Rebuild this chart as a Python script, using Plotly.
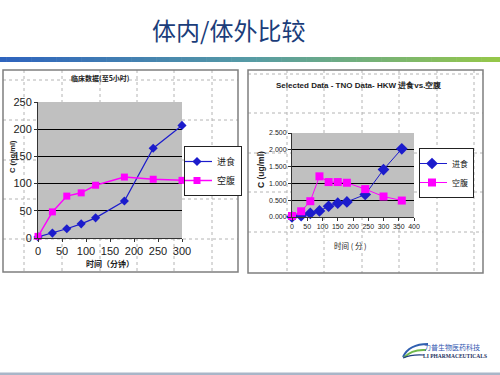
import plotly.graph_objects as go

W, H = 500, 375

# ---------------- data ----------------
t_left = [0, 30, 60, 90, 120, 180, 240, 300]
fed_left = [2, 9, 17, 26, 37, 68, 165, 207]
fast_left = [3, 48, 77, 83, 97, 112, 108, 106]

t_right = [0, 30, 60, 90, 120, 150, 180, 240, 300, 360]
fed_right = [0.0, 0.04, 0.11, 0.18, 0.32, 0.41, 0.45, 0.67, 1.41, 2.03]
fast_right = [0.03, 0.17, 0.47, 1.21, 1.04, 1.04, 1.02, 0.83, 0.61, 0.49]

series_names = ["进食", "空腹"]
left_yticks = [0, 50, 100, 150, 200, 250]
left_xticks = [0, 50, 100, 150, 200, 250, 300]
right_yticks = [0, 0.5, 1.0, 1.5, 2.0, 2.5]
right_xticks = [0, 50, 100, 150, 200, 250, 300, 350, 400]


def px(x):
    return x / W


def py(y):
    return 1 - y / H


BLUE = "#1c1ccc"
MAG = "#ff00ff"
CJK = "Noto Sans CJK SC, Liberation Sans, sans-serif"
SANS = "Liberation Sans, Arial, sans-serif"
NARROW = "Liberation Sans Narrow, Liberation Sans, sans-serif"

fig = go.Figure()

fig.add_trace(go.Scatter(x=t_left, y=fed_left, name=series_names[0], mode="lines+markers",
                         line=dict(color=BLUE, width=1.2),
                         marker=dict(symbol="diamond", size=7, color=BLUE),
                         cliponaxis=False, xaxis="x", yaxis="y", legend="legend"))
fig.add_trace(go.Scatter(x=t_left, y=fast_left, name=series_names[1], mode="lines+markers",
                         line=dict(color=MAG, width=1.5),
                         marker=dict(symbol="square", size=7, color=MAG),
                         cliponaxis=False, xaxis="x", yaxis="y", legend="legend"))
fig.add_trace(go.Scatter(x=t_right, y=fed_right, name=series_names[0], mode="lines+markers",
                         line=dict(color=BLUE, width=1),
                         marker=dict(symbol="diamond", size=9, color=BLUE),
                         cliponaxis=False, xaxis="x2", yaxis="y2", legend="legend2"))
fig.add_trace(go.Scatter(x=t_right, y=fast_right, name=series_names[1], mode="lines+markers",
                         line=dict(color=MAG, width=1),
                         marker=dict(symbol="square", size=8, color=MAG),
                         cliponaxis=False, xaxis="x2", yaxis="y2", legend="legend2"))

# plot areas (pixels)
LP = (38, 182, 102, 238)
RP = (292, 414, 133, 217)

axis_common = dict(showline=True, linecolor="#333333", linewidth=1, ticks="outside",
                   ticklen=3, tickcolor="#333333", zeroline=False, fixedrange=True,
                   automargin=False)

fig.update_layout(
    width=W, height=H, margin=dict(l=0, r=0, t=0, b=0, autoexpand=False),
    paper_bgcolor="white", plot_bgcolor="#c0c0c0",
    showlegend=True,
    xaxis=dict(domain=[px(LP[0]), px(LP[1])], range=[0, 300], tickvals=left_xticks,
               showgrid=False, anchor="y",
               tickfont=dict(family=SANS, size=11, color="#222222"), **axis_common),
    yaxis=dict(domain=[py(LP[3]), py(LP[2])], range=[0, 250], tickvals=left_yticks,
               showgrid=True, gridcolor="#000000", gridwidth=1, anchor="x",
               tickfont=dict(family=SANS, size=11, color="#222222"), **axis_common),
    xaxis2=dict(domain=[px(RP[0]), px(RP[1])], range=[0, 400], tickvals=right_xticks,
                showgrid=False, anchor="y2",
                tickfont=dict(family=NARROW, size=7, color="#222222"), **axis_common),
    yaxis2=dict(domain=[py(RP[3]), py(RP[2])], range=[0, 2.5], tickvals=right_yticks,
                tickformat=".3f", showgrid=True, gridcolor="#000000", gridwidth=1, anchor="x2",
                tickfont=dict(family=NARROW, size=7, color="#222222"), **axis_common),
    legend=dict(x=px(184), y=py(146), xanchor="left", yanchor="top",
                bgcolor="white", bordercolor="#222222", borderwidth=1,
                font=dict(family=CJK, size=9, color="#222222"),
                itemwidth=30, tracegroupgap=0, indentation=-8),
    legend2=dict(x=px(419), y=py(148), xanchor="left", yanchor="top",
                 bgcolor="white", bordercolor="#222222", borderwidth=1,
                 font=dict(family=CJK, size=8, color="#222222"),
                 itemwidth=30, tracegroupgap=0, indentation=-8),
)

shapes = []

# gradient bar under title
stops = [(0.0, (46, 99, 190)), (0.5, (86, 155, 165)), (1.0, (150, 200, 72))]


def grad(t):
    for (a, ca), (b, cb) in zip(stops[:-1], stops[1:]):
        if a <= t <= b:
            f = (t - a) / (b - a)
            return "rgb(%d,%d,%d)" % tuple(round(ca[i] + (cb[i] - ca[i]) * f) for i in range(3))
    return "rgb(%d,%d,%d)" % stops[-1][1]


N = 80
for i in range(N):
    x0 = W * i / N
    x1 = W * (i + 1) / N + 0.6
    shapes.append(dict(type="rect", xref="paper", yref="paper", x0=px(x0), x1=px(x1),
                       y0=py(62), y1=py(57), fillcolor=grad((i + 0.5) / N), line=dict(width=0),
                       layer="below"))

# bottom strip
shapes.append(dict(type="rect", xref="paper", yref="paper", x0=0, x1=1, y0=py(375), y1=py(372.5),
                   fillcolor="#a9b6c8", line=dict(width=0), layer="below"))


# dotted guide lines inside panels (clipped around plot areas)
def dotted(panel, plot, xs, ys):
    X0, X1, Y0, Y1 = panel
    a0, a1, b0, b1 = plot
    st = dict(type="line", xref="paper", yref="paper",
              line=dict(color="#b4b4b4", width=1, dash="dot"), layer="below")
    for x in xs:
        if a0 <= x <= a1:
            segs = [(Y0, b0), (b1, Y1)]
        else:
            segs = [(Y0, Y1)]
        for s0, s1 in segs:
            shapes.append(dict(st, x0=px(x), x1=px(x), y0=py(s0), y1=py(s1)))
    for y in ys:
        if b0 <= y <= b1:
            segs = [(X0, a0), (a1, X1)]
        else:
            segs = [(X0, X1)]
        for s0, s1 in segs:
            shapes.append(dict(st, x0=px(s0), x1=px(s1), y0=py(y), y1=py(y)))


LPANEL = (3, 238, 70, 272)
RPANEL = (248, 483, 70, 273)
dotted(LPANEL, LP, [24, 62, 100, 137, 174, 212], [80, 120, 160, 199, 239])
dotted(RPANEL, RP, [287, 324, 362, 399, 437, 474], [74, 113, 153, 192, 232])

for (X0, X1, Y0, Y1) in (LPANEL, RPANEL):
    shapes.append(dict(type="rect", xref="paper", yref="paper", x0=px(X0), x1=px(X1),
                       y0=py(Y1), y1=py(Y0), line=dict(color="#7f7f7f", width=1.5),
                       fillcolor="rgba(0,0,0,0)", layer="below"))


# logo swoosh
def path(pts):
    d = "M %f,%f" % (px(pts[0][0]), py(pts[0][1]))
    d += " Q %f,%f %f,%f" % (px(pts[1][0]), py(pts[1][1]), px(pts[2][0]), py(pts[2][1]))
    return d


shapes.append(dict(type="path", xref="paper", yref="paper",
                   path=path([(403, 357), (409, 344), (428, 344)]),
                   line=dict(color="#2f5fb0", width=2)))
shapes.append(dict(type="path", xref="paper", yref="paper",
                   path=path([(404, 357.5), (412, 349), (426, 350)]),
                   line=dict(color="#6fb84a", width=2)))
shapes.append(dict(type="path", xref="paper", yref="paper",
                   path=path([(403, 358), (412, 354), (424, 355)]),
                   line=dict(color="#1f3f80", width=1.2)))

fig.update_layout(shapes=shapes)

ann = []


def text(x, y, s, size, color="#222222", family=CJK, bold=False, angle=0, xanchor="center"):
    ann.append(dict(x=px(x), y=py(y), xref="paper", yref="paper", text=("<b>%s</b>" % s) if bold else s,
                    showarrow=False, xanchor=xanchor, yanchor="middle", textangle=angle,
                    font=dict(family=family, size=size, color=color)))


text(228, 30, "体内/体外比较", 24, color="#1b3d7a")
text(100, 78, "临床数据(至5小时)", 7, bold=True)
text(12, 157, "C (ng/ml)", 7.5, family=SANS, bold=True, angle=-90)
text(110, 263, "时间（分钟）", 8, bold=True)
text(358, 85, "Selected Data - TNO Data- HKW 进食vs.空腹", 8, family=NARROW, bold=True)
text(261, 170, "C (ug/ml)", 8.5, family=SANS, bold=True, angle=-90)
text(350, 245, "时间 ( 分 )", 7.5)
text(452, 347, "力普生物医药科技", 7, color="#2f55b0")
text(455, 356, "LI PHARMACEUTICALS", 5.5, color="#1c2f60", family="Liberation Serif, serif", bold=True)

fig.update_layout(annotations=ann)

fig.write_html("out.html", config={"displayModeBar": False},
               post_script="document.body.style.margin='0';document.body.style.overflow='hidden';")
